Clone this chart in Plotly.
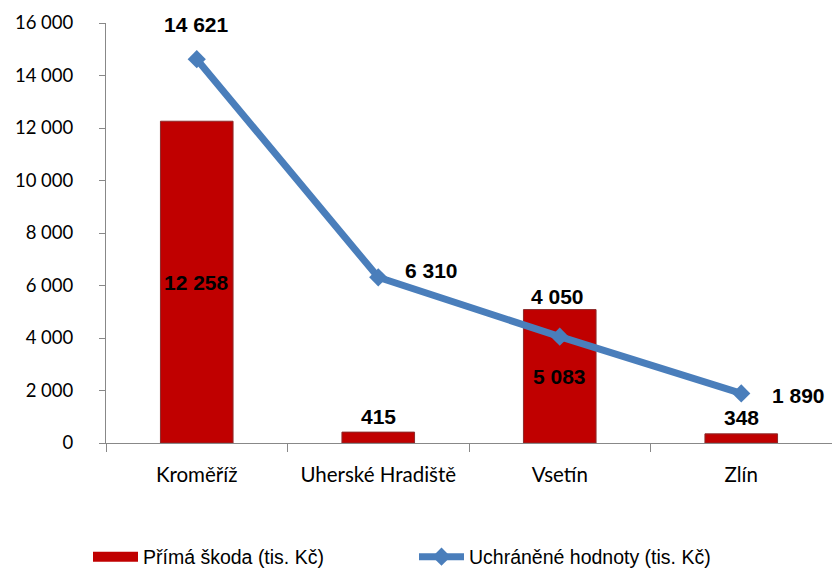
import plotly.graph_objects as go

categories = ["Kroměříž", "Uherské Hradiště", "Vsetín", "Zlín"]
prima_skoda = [12258, 415, 5083, 348]
uchranene = [14621, 6310, 4050, 1890]
tick_vals = [0, 2000, 4000, 6000, 8000, 10000, 12000, 14000, 16000]
tick_text = ["0", "2 000", "4 000", "6 000", "8 000", "10 000", "12 000", "14 000", "16 000"]

def fmt(v):
    return f"{v:,}".replace(",", " ")

fig = go.Figure()
fig.add_trace(go.Bar(
    x=categories, y=prima_skoda, name="Přímá škoda (tis. Kč)",
    marker=dict(color="#C00000", line=dict(color="#8C2A2A", width=1)),
    width=0.4, showlegend=False,
))
# legend swatch for the bars (wide red rectangle as in the original)
fig.add_trace(go.Scatter(
    x=[None], y=[None], name="Přímá škoda (tis. Kč)", mode="lines",
    line=dict(color="#C00000", width=10),
))
fig.add_trace(go.Scatter(
    x=categories, y=uchranene, name="Uchráněné hodnoty (tis. Kč)",
    mode="lines+markers",
    line=dict(color="#4A7EBB", width=7),
    marker=dict(symbol="diamond", size=14, color="#4A7EBB"),
))

label_font = dict(family="Liberation Sans, Arial", size=21, color="black")
bar_pos = ["inside", "outside", "inside", "outside"]
for c, v, p in zip(categories, prima_skoda, bar_pos):
    if p == "inside":
        fig.add_annotation(x=c, y=v / 2, text=f"<b>{fmt(v)}</b>", showarrow=False, font=label_font)
    else:
        fig.add_annotation(x=c, y=v, text=f"<b>{fmt(v)}</b>", showarrow=False, font=label_font, yshift=16)

line_offsets = [(0, 35), (53, 7), (-2, 40), (57, -2)]
for c, v, (dx, dy) in zip(categories, uchranene, line_offsets):
    fig.add_annotation(x=c, y=v, text=f"<b>{fmt(v)}</b>", showarrow=False, font=label_font,
                       xshift=dx, yshift=dy)

fig.update_layout(
    width=832, height=572,
    margin=dict(l=106, r=0, t=23, b=129),
    plot_bgcolor="white", paper_bgcolor="white",
    showlegend=True,
    legend=dict(orientation="h", xref="container", yref="container",
                x=88 / 832, xanchor="left", y=1 - 557 / 572, yanchor="middle",
                font=dict(family="Liberation Sans, Arial", size=19.5, color="black"),
                itemwidth=45, entrywidthmode="pixels", entrywidth=266,
                traceorder="normal"),
)
fig.update_xaxes(
    type="category", showline=True, linecolor="#888888", linewidth=1,
    ticks="outside", tickson="boundaries", ticklen=8, tickcolor="#888888",
    tickfont=dict(family="Lato, Open Sans", size=20.5, color="black"),
    ticklabelstandoff=13,
    showgrid=False, automargin=False,
)
fig.update_yaxes(
    range=[0, 16000], tickvals=tick_vals, ticktext=tick_text,
    showline=True, linecolor="#888888", linewidth=1,
    ticks="outside", ticklen=6, tickcolor="#888888",
    tickfont=dict(family="Lato, Open Sans", size=18.5, color="black"),
    ticklabelstandoff=22,
    showgrid=False, zeroline=False, automargin=False,
)

fig.write_html("out.html", config={"displayModeBar": False},
               post_script="document.body.style.margin='0';document.body.style.overflow='hidden';")
